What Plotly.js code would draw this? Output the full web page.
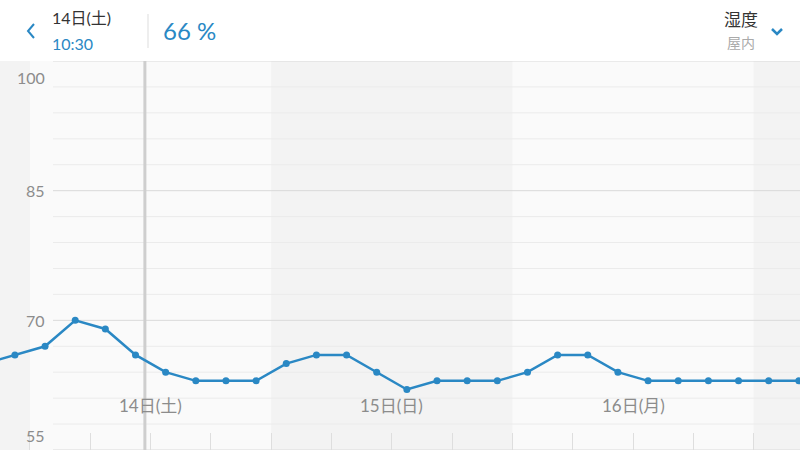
<!DOCTYPE html>
<html>
<head>
<meta charset="utf-8">
<script src="https://cdn.plot.ly/plotly-3.0.1.min.js"></script>
<style>html,body{margin:0;padding:0;background:#fff;}#chart{width:800px;height:450px;}</style>
</head>
<body>
<div id="chart"></div>
<script>
// ---- data ----
var times = [
  '2018-04-13 19:30','2018-04-13 22:30',
  '2018-04-14 01:30','2018-04-14 04:30','2018-04-14 07:30','2018-04-14 10:30',
  '2018-04-14 13:30','2018-04-14 16:30','2018-04-14 19:30','2018-04-14 22:30',
  '2018-04-15 01:30','2018-04-15 04:30','2018-04-15 07:30','2018-04-15 10:30',
  '2018-04-15 13:30','2018-04-15 16:30','2018-04-15 19:30','2018-04-15 22:30',
  '2018-04-16 01:30','2018-04-16 04:30','2018-04-16 07:30','2018-04-16 10:30',
  '2018-04-16 13:30','2018-04-16 16:30','2018-04-16 19:30','2018-04-16 22:30',
  '2018-04-17 01:30','2018-04-17 04:30'
];
var humidity = [
  65, 66,
  67, 70, 69, 66,
  64, 63, 63, 63,
  65, 66, 66, 64,
  62, 63, 63, 63,
  64, 66, 66, 64,
  63, 63, 63, 63,
  63, 63
];
var dayStarts   = ['2018-04-13','2018-04-14','2018-04-15','2018-04-16','2018-04-17','2018-04-18'];
var shadedDays  = [true, false, true, false, true];
var dayLabels   = ['14日(土)','15日(日)','16日(月)'];
var dayLabelAt  = ['2018-04-14 12:00','2018-04-15 12:00','2018-04-16 12:00'];
var yMajorTicks = [55, 70, 85, 100];
var yMinorStep  = 3;
var xRange      = ['2018-04-13 21:01','2018-04-17 04:37'];
var yRange      = [55, 100];
var cursorTime  = '2018-04-14 11:26';
var headerDate  = '14日(土)';
var headerTime  = '10:30';
var headerValue = '66 %';
var headerMetric = '湿度';
var headerPlace  = '屋内';

// ---- layout helpers ----
var W = 800, H = 450, T = 61, B = 0;
var plotH = H - T - B;
function px(x){ return x / W; }
function py(y){ return (H - B - y) / plotH; }

var FONT = "Lato, 'Noto Sans CJK JP', sans-serif";
var BLUE = '#2a88c4';

var shapes = [];
// day bands
for (var i = 0; i < shadedDays.length; i++) {
  if (shadedDays[i]) {
    shapes.push({type:'rect', xref:'x', yref:'paper', x0:dayStarts[i], x1:dayStarts[i+1], y0:0, y1:1,
      fillcolor:'#f3f3f3', line:{width:0}, layer:'below'});
  }
}
// gridlines
for (var v = yRange[0]; v <= yRange[1]; v += yMinorStep) {
  var major = yMajorTicks.indexOf(v) >= 0;
  shapes.push({type:'line', xref:'paper', yref:'y', x0:px(53), x1:1, y0:v, y1:v,
    line:{color: major ? '#dadada' : '#ebebeb', width:1}, layer:'below'});
}
// cursor
shapes.push({type:'line', xref:'x', yref:'paper', x0:cursorTime, x1:cursorTime, y0:0, y1:1,
  line:{color:'#cecece', width:3}, layer:'below'});
// header separator
shapes.push({type:'line', xref:'paper', yref:'paper', x0:px(148), x1:px(148), y0:py(14), y1:py(48),
  line:{color:'#dddddd', width:1}});
// back chevron
shapes.push({type:'path', xref:'paper', yref:'paper',
  path:'M '+px(34)+','+py(24)+' L '+px(28)+','+py(31)+' L '+px(34)+','+py(38),
  line:{color:BLUE, width:2}});
// down chevron
shapes.push({type:'path', xref:'paper', yref:'paper',
  path:'M '+px(772)+','+py(29)+' L '+px(777)+','+py(34)+' L '+px(782)+','+py(29),
  line:{color:BLUE, width:2.5}});

var annotations = [];
// y labels
for (var k = 0; k < yMajorTicks.length; k++) {
  var t = yMajorTicks[k];
  var shift = 0;
  if (t === yRange[1]) shift = -16;
  if (t === yRange[0]) shift = 15;
  annotations.push({xref:'paper', yref:'y', x:px(47), y:t, yshift:shift, xanchor:'right', yanchor:'middle',
    text:String(t), showarrow:false, font:{family:FONT, size:16, color:'#8c8c8c'}});
}
// day labels
for (var d = 0; d < dayLabels.length; d++) {
  annotations.push({xref:'x', yref:'paper', x:dayLabelAt[d], y:py(405), xanchor:'center', yanchor:'middle',
    text:dayLabels[d], showarrow:false, font:{family:FONT, size:17, color:'#8c8c8c'}});
}
// header
annotations.push({xref:'paper', yref:'paper', x:px(50), y:py(17), xanchor:'left', yanchor:'middle',
  text:headerDate, showarrow:false, font:{family:FONT, size:16, color:'#333333'}});
annotations.push({xref:'paper', yref:'paper', x:px(50), y:py(44), xanchor:'left', yanchor:'middle',
  text:headerTime, showarrow:false, font:{family:FONT, size:16, color:BLUE}});
annotations.push({xref:'paper', yref:'paper', x:px(161), y:py(31), xanchor:'left', yanchor:'middle',
  text:headerValue, showarrow:false, font:{family:FONT, size:24, color:BLUE}});
annotations.push({xref:'paper', yref:'paper', x:px(741), y:py(20), xanchor:'center', yanchor:'middle',
  text:headerMetric, showarrow:false, font:{family:FONT, size:17, color:'#333333'}});
annotations.push({xref:'paper', yref:'paper', x:px(741), y:py(42), xanchor:'center', yanchor:'middle',
  text:headerPlace, showarrow:false, font:{family:FONT, size:14, color:'#aaaaaa'}});

var trace = {
  type:'scatter', mode:'lines+markers', x:times, y:humidity,
  line:{color:BLUE, width:2.5}, marker:{color:BLUE, size:7},
  hoverinfo:'none'
};

var layout = {
  width:W, height:H,
  margin:{l:0, r:0, t:T, b:B, pad:0},
  paper_bgcolor:'#ffffff', plot_bgcolor:'#fafafa',
  showlegend:false,
  xaxis:{type:'date', range:xRange, showgrid:false, zeroline:false, showline:false,
    ticks:'inside', ticklen:17, tickwidth:1, tickcolor:'#dedede',
    tick0:'2018-04-14 00:00', dtick:6*3600*1000, showticklabels:false, fixedrange:true},
  yaxis:{range:yRange, showgrid:false, zeroline:false, showline:false, showticklabels:false, ticks:'', fixedrange:true},
  shapes:shapes, annotations:annotations,
  font:{family:FONT}
};

Plotly.newPlot('chart', [trace], layout, {displayModeBar:false, staticPlot:true});
</script>
</body>
</html>
